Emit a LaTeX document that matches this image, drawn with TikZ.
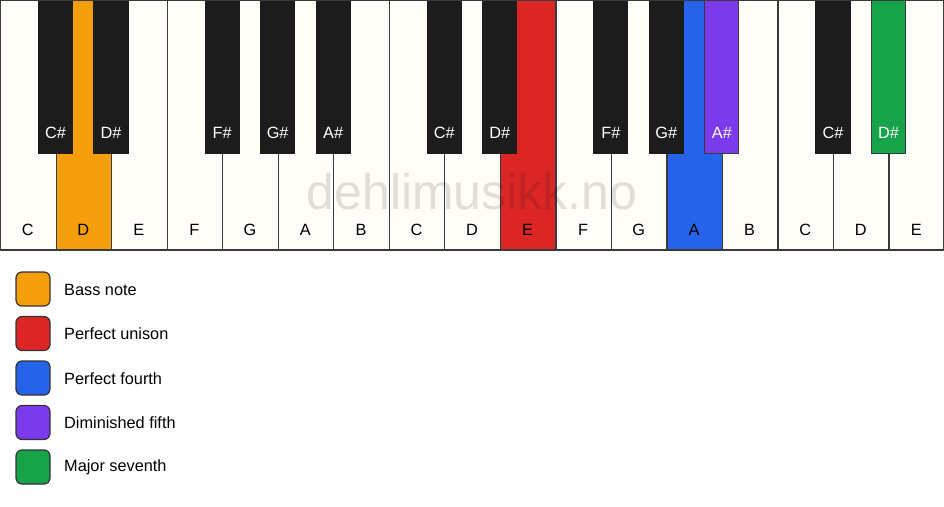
\documentclass[tikz,border=0pt]{standalone}
\usepackage{fontspec}
\setmainfont{Liberation Sans}
\definecolor{keywhite}{HTML}{FFFDF8}
\definecolor{keyblack}{HTML}{1C1C1C}
\definecolor{keyline}{HTML}{3A3A3A}
\definecolor{cbass}{HTML}{F59E0B}
\definecolor{cunison}{HTML}{DC2626}
\definecolor{cfourth}{HTML}{2563EB}
\definecolor{cdim}{HTML}{7C3AED}
\definecolor{cseventh}{HTML}{16A34A}
\begin{document}
\begin{tikzpicture}[x=1pt,y=-1pt,
  whitekey/.style={draw=keyline,line width=1.2pt,fill=keywhite,minimum width=55.53pt,minimum height=250pt,inner sep=0pt,anchor=north west},
  blackkey/.style={draw=keyblack,line width=1.2pt,fill=keyblack,minimum width=34pt,minimum height=153pt,inner sep=0pt,anchor=north},
  wlabel/.style={font=\fontsize{16.3}{16}\selectfont,text=black},
  blabel/.style={font=\fontsize{16.3}{16}\selectfont,text=white},
  legbox/.style={draw=keyblack!90,line width=1.2pt,rounded corners=6pt,minimum width=34pt,minimum height=34pt,inner sep=0pt},
  legtext/.style={font=\fontsize{16.3}{16}\selectfont,anchor=west,inner sep=0pt}]
\useasboundingbox (0,0) rectangle (944,506);
\fill[white] (0,0) rectangle (944,506);
% white keys
\foreach \i/\n/\c in {0/C/keywhite,1/D/cbass,2/E/keywhite,3/F/keywhite,4/G/keywhite,5/A/keywhite,6/B/keywhite,7/C/keywhite,8/D/keywhite,9/E/cunison,10/F/keywhite,11/G/keywhite,12/A/cfourth,13/B/keywhite,14/C/keywhite,15/D/keywhite,16/E/keywhite}{
  \node[whitekey,fill=\c] (w\i) at ({\i*944/17},0) {};
  \node[wlabel] (wl\i) at ({(\i+0.5)*944/17},230) {\n};
}
% black keys
\foreach \b/\n/\c/\d in {1/C\#/keyblack/keyblack,2/D\#/keyblack/keyblack,4/F\#/keyblack/keyblack,5/G\#/keyblack/keyblack,6/A\#/keyblack/keyblack,8/C\#/keyblack/keyblack,9/D\#/keyblack/keyblack,11/F\#/keyblack/keyblack,12/G\#/keyblack/keyblack,13/A\#/cdim/keyline,15/C\#/keyblack/keyblack,16/D\#/cseventh/keyline}{
  \node[blackkey,fill=\c,draw=\d] (b\b) at ({\b*944/17},0) {};
  \node[blabel] (bl\b) at ({\b*944/17},133) {\n};
}
\draw[keyline,line width=1.5pt] (0,0.5) rectangle (944,250);
% watermark
\node[font=\fontsize{50}{50}\selectfont,text=black,opacity=0.12,text opacity=0.12] (wm) at (472,192) {dehlimusikk.no};
% legend
\foreach \k/\c/\t in {0/cbass/Bass note,1/cunison/Perfect unison,2/cfourth/Perfect fourth,3/cdim/Diminished fifth,4/cseventh/Major seventh}{
  \node[legbox,fill=\c] (lg\k) at (33,{289+\k*44.5}) {};
  \node[legtext] (lt\k) at (64,{289.5+\k*44.5}) {\t};
}
\end{tikzpicture}
\end{document}
